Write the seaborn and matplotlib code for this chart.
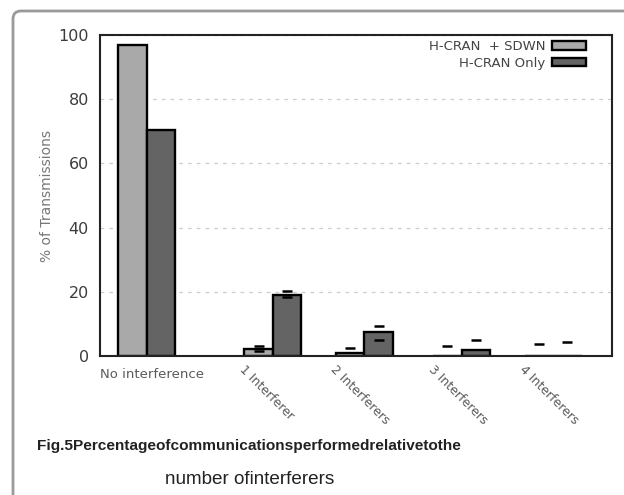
import numpy as np
import pandas as pd
import matplotlib
matplotlib.use("Agg")
import matplotlib.pyplot as plt
import matplotlib.transforms as mtransforms
from matplotlib.patches import FancyBboxPatch
import seaborn as sns

categories = ["No interference", "1 Interferer", "2 Interferers", "3 Interferers", "4 Interferers"]
positions = [0, 1.35, 2.33, 3.37, 4.35]
series = ["H-CRAN  + SDWN", "H-CRAN Only"]
sdwn = [97.0, 2.2, 0.8, 0.0, 0.0]
only = [70.5, 19.1, 7.6, 1.9, 0.0]
# error bar caps (only caps are drawn in the original)
sdwn_lo = [np.nan, 1.6, np.nan, np.nan, np.nan]
sdwn_hi = [np.nan, 3.1, 2.5, 3.1, 3.8]
only_lo = [np.nan, 18.3, 5.0, np.nan, np.nan]
only_hi = [np.nan, 20.1, 9.4, 5.0, 4.4]

light = "#a9a9a9"
dark = "#646464"
txtgray = "#5a5a5a"

df = pd.DataFrame({
    "pos": positions * 2,
    "value": sdwn + only,
    "series": [series[0]] * len(sdwn) + [series[1]] * len(only),
})

sns.set_style("white")
plt.rcParams['font.family'] = ['DejaVu Sans']

fig = plt.figure(figsize=(6.24, 4.95), dpi=100)
ax = fig.add_axes([100 / 624, 1 - 356 / 495, 512 / 624, 321 / 495])

sns.barplot(data=df, x="pos", y="value", hue="series", native_scale=True,
            width=0.62, palette=[light, dark], edgecolor="black", linewidth=1.7,
            saturation=1, ax=ax)

# caps at bar centres
for cont, lo, hi in zip(ax.containers, [sdwn_lo, only_lo], [sdwn_hi, only_hi]):
    xs = [b.get_x() + b.get_width() / 2 for b in cont]
    ax.plot(xs, lo, ls="none", marker="_", ms=7, mew=1.8, color="black", zorder=5)
    ax.plot(xs, hi, ls="none", marker="_", ms=7, mew=1.8, color="black", zorder=5)

ax.set_xlim(-0.5, 4.98)
ax.set_ylim(0, 100)
ax.set_yticks([0, 20, 40, 60, 80, 100])
ax.yaxis.grid(True, ls=(0, (3, 4)), color="#cccccc", lw=0.9)
ax.set_axisbelow(True)
for s in ax.spines.values():
    s.set_color("#222222")
    s.set_linewidth(1.5)
ax.tick_params(axis="y", labelsize=11.5, labelcolor="#3c3c3c", length=0, pad=8)
ax.tick_params(axis="x", length=0)
ax.set_xlabel("")
ax.set_ylabel("% of Transmissions", fontsize=10, color="#777777", labelpad=3)

ax.set_xticks(positions)
ax.set_xticklabels([])
for i, (p, lab) in enumerate(zip(positions, categories)):
    if i == 0:
        off0 = mtransforms.ScaledTranslation(5 / 100, 0, fig.dpi_scale_trans)
        ax.text(p, -3.8, lab, transform=ax.transData + off0,
                ha="center", va="top", fontsize=9.5, color=txtgray)
    else:
        off = mtransforms.ScaledTranslation(-27 / 100, -7 / 100, fig.dpi_scale_trans)
        ax.text(p, 0, lab, transform=ax.transData + off, rotation=-45,
                rotation_mode="anchor", ha="left", va="top", fontsize=9, color=txtgray,
                clip_on=False)

handles, labels = ax.get_legend_handles_labels()
leg = ax.legend(handles, labels, loc="upper right", frameon=False, markerfirst=False,
                bbox_to_anchor=((586 - 100) / 512, 1 - 5 / 321),
                fontsize=9.5, handlelength=2.6, handleheight=0.6, labelspacing=0.3,
                borderaxespad=0, borderpad=0, handletextpad=0.5)
for t in leg.get_texts():
    t.set_color("#444444")

fig.text(249 / 624, 1 - 446 / 495, "Fig.5Percentageofcommunicationsperformedrelativetothe",
         ha="center", va="center", fontsize=11.1, fontweight="bold",
         family=["Liberation Sans Narrow", "Liberation Sans"], color="#222222")
fig.text(250 / 624, 1 - 480 / 495, "number ofinterferers",
         ha="center", va="center", fontsize=13.6,
         family=["Liberation Sans"], color="#222222")

frame = FancyBboxPatch((0.13, -1.0), 8.0, 5.84, boxstyle="round,pad=0,rounding_size=0.08",
                       transform=fig.dpi_scale_trans, fill=False, edgecolor="#9a9a9a",
                       lw=2, clip_on=False)
fig.patches.append(frame)

fig.savefig("out.png", dpi=100)
